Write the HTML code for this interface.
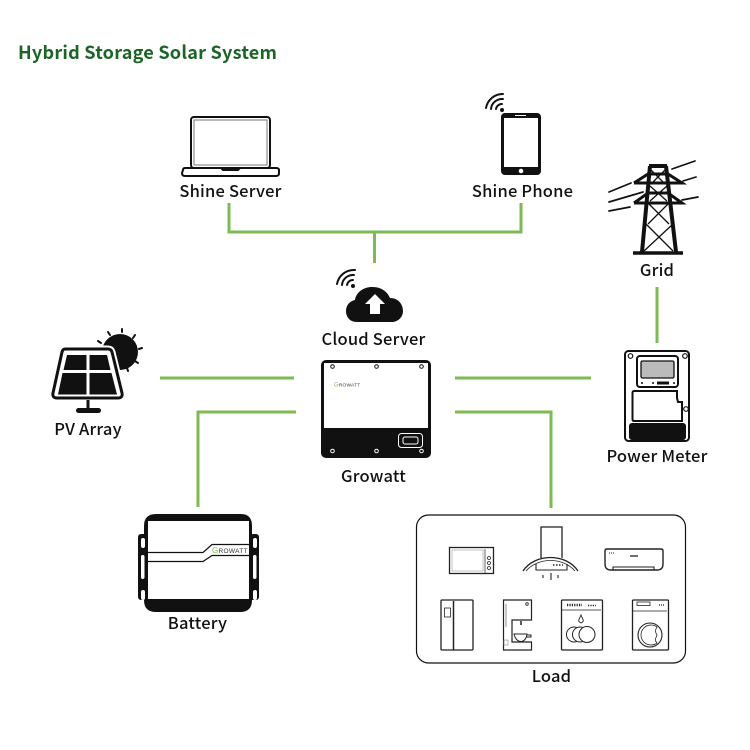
<!DOCTYPE html>
<html><head><meta charset="utf-8"><style>
html,body{margin:0;padding:0;background:#fff;width:750px;height:750px;overflow:hidden}
svg{display:block}
text{font-family:"Noto Sans CJK SC","Liberation Sans",sans-serif;fill:#111;font-size:16.5px;font-weight:500;text-anchor:middle;letter-spacing:.2px}
</style></head><body>
<svg width="750" height="750" viewBox="0 0 750 750" xmlns="http://www.w3.org/2000/svg">
<rect width="750" height="750" fill="#fff"/>
<text x="18" y="59" style="text-anchor:start;font-size:18.1px;font-weight:700;fill:#1c6527;letter-spacing:.2px">Hybrid Storage Solar System</text>

<!-- connectors -->
<g fill="none" stroke="#7db955" stroke-width="3">
<path d="M229 203V232H521V203M374.500 232V263"/>
<path d="M657 287V343"/>
<path d="M160 378H294"/>
<path d="M296 412H198V507"/>
<path d="M455 378H591"/>
<path d="M455 412H551V508"/>
</g>

<!-- laptop -->
<g fill="none" stroke="#111">
<rect x="191" y="117" width="79" height="51" rx="3" stroke-width="2" fill="#fff"/>
<rect x="194" y="120" width="73" height="45" stroke="#777" stroke-width="1"/>
<path d="M183 170Q183 168 185 168H221L223 170H238L240 168H276Q279 168 279 170V173Q279 176 276 176H185Q182 176 182 173Z" stroke-width="2" fill="#fff"/>
</g>
<text x="230.500" y="197">Shine Server</text>

<!-- phone -->
<rect x="501" y="113" width="40" height="62" rx="4" fill="#111"/>
<rect x="504" y="118" width="34" height="49" fill="#fff"/>
<circle cx="521" cy="171" r="2.300" fill="#fff"/>
<rect x="515" y="115" width="11" height="1" fill="#fff"/>
<circle cx="502" cy="110" r="2" fill="#111"/>
<g fill="none" stroke="#111" stroke-width="2" stroke-linecap="round">
<path d="M496 109A6 6 0 0 1 502 104"/>
<path d="M491 109A11 11 0 0 1 503 99"/>
<path d="M486 108A17 17 0 0 1 503 94"/>
</g>
<text x="522.500" y="197">Shine Phone</text>

<!-- cloud -->
<path d="M357 322C349 322 346 316 346 311C346 305 350 301 355 300C356 292 364 287 372 287C381 287 387 291 390 298C398 298 403 304 403 311C403 317 398 322 392 322Z" fill="#111"/>
<path d="M375 294L385 304H380V314H370V304H365Z" fill="#fff"/>
<circle cx="353" cy="286" r="2" fill="#111"/>
<g fill="none" stroke="#111" stroke-width="2" stroke-linecap="round">
<path d="M347 285A6 6 0 0 1 353 280"/>
<path d="M342 285A11 11 0 0 1 354 275"/>
<path d="M337 284A17 17 0 0 1 355 270"/>
</g>
<text x="373.500" y="345">Cloud Server</text>

<!-- inverter -->
<rect x="321" y="360" width="110" height="98" rx="5" fill="#111"/>
<rect x="324" y="363" width="104" height="65" fill="#fff"/>
<g fill="none" stroke="#fff" stroke-width="1">
<circle cx="332.500" cy="451" r="1.800"/><circle cx="376.500" cy="451" r="1.800"/><circle cx="421.500" cy="451" r="1.800"/>
<rect x="398.500" y="433.500" width="24" height="14" rx="3"/>
<rect x="403" y="437" width="15" height="7" rx="2"/>
</g>
<g fill="#fff" stroke="#111" stroke-width="1">
<circle cx="332.500" cy="366.500" r="1.800"/><circle cx="376.500" cy="366.500" r="1.800"/><circle cx="421.500" cy="366.500" r="1.800"/>
</g>
<text x="334" y="386.500" style="text-anchor:start;font-size:4.800px;font-weight:400;font-family:'Liberation Sans',sans-serif;fill:#333;letter-spacing:.2px"><tspan fill="#7db955" style="font-size:6px">G</tspan>ROWATT</text>
<text x="373.500" y="482">Growatt</text>

<!-- grid tower -->
<g fill="none" stroke="#111">
<path d="M649 166H667M650 166L642 252M666 166L676 252" stroke-width="4"/>
<path d="M633 253H683" stroke-width="3.500"/>
<path d="M634 183L648 174H668L682 183H634M634 203L648 193H668L682 203H634" stroke-width="3"/>
<path d="M651 170L665 184M665 170L651 184M650 186L667 201M667 186L650 201M648 203L669 224M669 203L648 224M646 224L673 251M673 224L644 251" stroke-width="1.300"/>
<path d="M672 169L695 161M683 181L696 177M682 200L698 197M609 192L631 183M609 202L643 192M609 211L630 207" stroke-width="1.700" stroke-linecap="round"/>
</g>
<text x="657" y="276">Grid</text>

<!-- PV -->
<circle cx="120" cy="352" r="18" fill="#111"/>
<g stroke="#111" stroke-width="2" stroke-linecap="round">
<path d="M108 332L110 335M122 329V332M135 335L133 338M142 348L139 349M138 363L135 361M128 371L127 368M98 341L101 343"/>
</g>
<path d="M65 349H108Q111 349 112 352L122 393Q123 398 118 398H57Q52 398 53 393L62 352Q63 349 65 349Z" fill="#fff" stroke="#fff" stroke-width="7"/>
<path d="M65 349H108Q111 349 112 352L122 393Q123 398 118 398H57Q52 398 53 393L62 352Q63 349 65 349Z" fill="#fff" stroke="#111" stroke-width="3"/>
<path d="M67 355H86.500V370H63.500Z M89.500 355H107L110.500 370H89.500Z M62.500 373H86.500V394.500H58Z M89.500 373H111.500L117 394.500H89.500Z" fill="#111"/>
<path d="M88 400V408" stroke="#111" stroke-width="3"/>
<rect x="76" y="408" width="25" height="5" rx="2.500" fill="#111"/>
<text x="88" y="435">PV Array</text>

<!-- power meter -->
<rect x="625" y="351" width="64" height="90" rx="3.500" fill="#fff" stroke="#111" stroke-width="2"/>
<g fill="#fff" stroke="#111" stroke-width="1.200"><circle cx="630.500" cy="356" r="2.300"/><circle cx="685" cy="356" r="2.300"/></g>
<rect x="637" y="356" width="41" height="31" rx="3" fill="#fff" stroke="#111" stroke-width="2"/>
<rect x="641" y="361" width="33" height="17" rx="1.500" fill="#bbb" stroke="#111" stroke-width="1.300"/>
<g fill="#111"><circle cx="642" cy="383" r="1"/><circle cx="653" cy="383" r="1"/><rect x="657" y="381.500" width="12" height="3"/><circle cx="674" cy="383" r="1"/></g>
<path d="M634 391Q632.500 391 632.500 393V419Q632.500 421 634 421H682V402H678L677 398V391Z" fill="#fff" stroke="#111" stroke-width="2"/>
<circle cx="686" cy="409" r="2.300" fill="#fff" stroke="#111" stroke-width="1.200"/>
<rect x="629" y="423" width="57" height="17" rx="3" fill="#111"/>
<text x="657" y="462">Power Meter</text>

<!-- battery -->
<rect x="138" y="534" width="9" height="66" rx="3" fill="#111"/>
<rect x="250" y="534" width="9" height="66" rx="3" fill="#111"/>
<path d="M144 526Q144 514 156 514H241Q252 514 252 526V600Q252 612 240 612H156Q144 612 144 600Z" fill="#111"/>
<rect x="148" y="521" width="101" height="78" fill="#fff"/>
<g fill="#fff">
<rect x="141" y="555" width="3.500" height="24" rx="1.700"/>
<rect x="253" y="555" width="3.500" height="24" rx="1.700"/>
<rect x="141" y="538" width="4" height="10" rx="2"/>
<rect x="253" y="538" width="4" height="10" rx="2"/>
<rect x="141" y="590" width="4" height="10" rx="2"/>
<rect x="253" y="590" width="4" height="10" rx="2"/>
</g>
<path d="M148 552.500H203L212 544.500H249M148 561.500H203L212 555.500H249" fill="none" stroke="#111" stroke-width="1.200"/>
<text x="212" y="553" style="text-anchor:start;font-size:6.500px;font-weight:400;font-family:'Liberation Sans',sans-serif;fill:#333;letter-spacing:.3px"><tspan fill="#7db955" style="font-size:8px">G</tspan>ROWATT</text>
<text x="197.500" y="629">Battery</text>

<!-- load box -->
<rect x="416.500" y="515" width="269" height="148" rx="12" fill="#fff" stroke="#111" stroke-width="1.200"/>
<g fill="none" stroke="#222" stroke-width="1">
<!-- microwave -->
<rect x="449.500" y="547.500" width="44" height="26" stroke-width="1.300"/>
<rect x="452" y="550" width="31" height="21" stroke-width=".5" stroke="#888"/>
<path d="M485 549V573" stroke-width=".7"/>
<circle cx="489" cy="558" r="1.500" stroke-width=".8"/>
<circle cx="489" cy="563" r="1.500" stroke-width=".8"/>
<circle cx="489" cy="568" r="1.500" stroke-width=".8"/>
<!-- hood -->
<path d="M541 558V527H562V558" stroke-width="1.300"/>
<path d="M523 571C535 553 566 553 578 571" stroke-width="1.300"/>
<path d="M526 571C538 557 563 557 575 571" stroke-width=".8" fill="#fff"/>
<path d="M536 564V570H567V564" stroke-width="1.100"/>
<path d="M551 573V580M543 575V578M558 575V578" stroke-width="1.100"/>
<path d="M553 565H563" stroke-dasharray="1.500 1.500" stroke-width="1.500"/>
<!-- AC -->
<path d="M605 551Q605 549 607 549H661Q663 549 663 551V564Q663 570 657 570H611Q605 570 605 564Z" stroke-width="1.400"/>
<path d="M613 570V567H654V570" stroke-width="1.100"/>
<path d="M630 556H638" stroke-width="1.300"/>
<path d="M609 553H615" stroke-dasharray="1 1" stroke-width=".9"/>
<!-- fridge -->
<rect x="441" y="600" width="32" height="50" rx="1" stroke-width="1.300"/>
<path d="M453.500 601V650" stroke-width="1.500"/>
<rect x="444.500" y="608" width="6" height="9" stroke-width=".8"/>
<!-- coffee -->
<path d="M503.500 600H531.500V620H512V642H531.500V650H503.500Z" stroke-width="1.200"/>
<path d="M506 604V627" stroke-width="1.100" stroke="#999"/>
<path d="M514 634H527C526 644 516 644 514 634Z M527 635H531V637H526" stroke-width="1"/>
<path d="M521 621V625" stroke-width="1.500"/>
<rect x="504" y="640" width="4" height="5" stroke-width=".6" stroke="#888"/>
<circle cx="527" cy="604" r="1.300" stroke-width=".8"/>
<!-- dishwasher -->
<rect x="561.500" y="600" width="41" height="50" rx="1" stroke-width="1.300"/>
<path d="M562 610H601" stroke-width=".8"/>
<path d="M567 605H582" stroke-dasharray="1.200 1.200" stroke-width="2.500"/>
<path d="M588 605.500H596" stroke-dasharray="1.200 1.200" stroke-width="1.500"/>
<path d="M581 615C583 620 585 621 581 623C577 621 579 620 581 615Z" stroke-width=".9"/>
<circle cx="574" cy="634.500" r="7.500" stroke-width="1"/>
<circle cx="580" cy="634.500" r="7.500" fill="#fff" stroke-width="1"/>
<circle cx="587" cy="634.500" r="8" fill="#fff" stroke-width="1"/>
<!-- washer -->
<rect x="632.500" y="600" width="36" height="50" rx="1" stroke-width="1.300"/>
<path d="M633 611H667" stroke-width=".8"/>
<rect x="637" y="602" width="13" height="3.500" stroke-width=".8"/>
<path d="M659 605H665" stroke-dasharray="1 1" stroke-width="1.300"/>
<circle cx="650" cy="635" r="12" stroke-width="1.100"/>
<path d="M657 627A10 10 0 1 0 657 643C654 640 656 638 657 635C655 632 655 630 657 627Z" stroke-width=".8"/>
</g>
<text x="551.500" y="682">Load</text>
</svg>
</body></html>
